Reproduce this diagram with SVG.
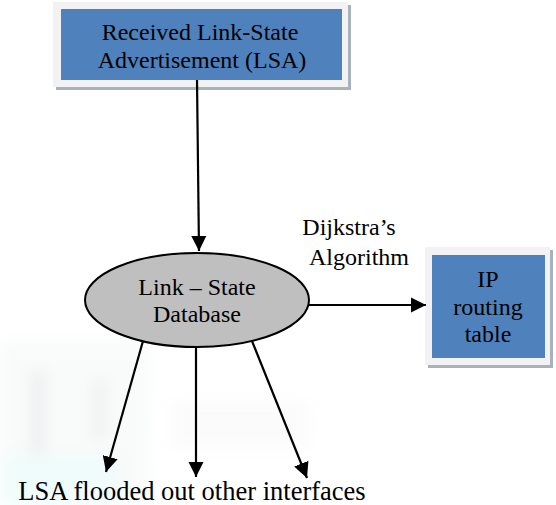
<svg xmlns="http://www.w3.org/2000/svg" width="556" height="505" viewBox="0 0 556 505" font-family="'Liberation Serif', 'Times New Roman', 'DejaVu Serif', serif">
<style>
text{font-family:'Liberation Serif','Times New Roman','DejaVu Serif',serif}
.t{font-size:24px;fill:#000;text-anchor:middle}
.frame{fill:#f2f2f2}
.shadow{fill:#a9b1bf}
.blue{fill:#4f81bd}
.conn{stroke:#000;stroke-width:2.2;fill:none}
</style>
<defs>
<marker id="ah" viewBox="0 0 10 10" refX="10" refY="5" markerWidth="7" markerHeight="7" markerUnits="strokeWidth" orient="auto">
<path d="M0,0 L10,5 L0,10 Z" fill="#000"/>
</marker>
<filter id="blur" x="-20%" y="-20%" width="140%" height="140%"><feGaussianBlur stdDeviation="7"/></filter>
</defs>
<rect width="556" height="505" fill="#fff"/>
<g id="watermark" filter="url(#blur)" opacity="0.22">
<rect x="0" y="340" width="150" height="165" fill="#e6ecec"/>
<rect x="30" y="370" width="16" height="90" fill="#b8bcbf"/>
<rect x="90" y="380" width="18" height="60" fill="#c4c7c9"/>
<rect x="0" y="455" width="120" height="50" fill="#bff0ee"/>
<rect x="170" y="400" width="140" height="50" fill="#eeeeee"/>
</g>
<g id="lsa-box">
<rect class="shadow" x="56" y="5" width="295" height="85"/>
<rect class="frame" x="53" y="2" width="295" height="85"/>
<rect class="blue" x="61" y="9" width="281" height="71"/>
<text class="t" x="200" y="40" font-family="Liberation Serif">Received Link-State</text>
<text class="t" x="202" y="68" font-family="Liberation Serif">Advertisement (LSA)</text>
</g>
<g id="database">
<ellipse cx="197" cy="300" rx="112" ry="47" fill="#bfbfbf" stroke="#000" stroke-width="2"/>
<text class="t" x="197" y="295" font-family="Liberation Serif">Link – State</text>
<text class="t" x="197" y="322" font-family="Liberation Serif">Database</text>
</g>
<g id="ip-table">
<rect class="shadow" x="428" y="250" width="125" height="118"/>
<rect class="frame" x="425" y="247" width="125" height="118"/>
<rect class="blue" x="432" y="255" width="113" height="103"/>
<text class="t" x="488" y="287" font-family="Liberation Serif">IP</text>
<text class="t" x="488" y="315" font-family="Liberation Serif">routing</text>
<text class="t" x="488" y="342" font-family="Liberation Serif">table</text>
</g>
<g id="connectors">
<line class="conn" x1="197" y1="80" x2="199" y2="251" marker-end="url(#ah)"/>
<line class="conn" x1="309" y1="305" x2="426" y2="305" marker-end="url(#ah)"/>
<line class="conn" x1="143" y1="341" x2="106" y2="472" marker-end="url(#ah)"/>
<line class="conn" x1="196" y1="347" x2="196" y2="477" marker-end="url(#ah)"/>
<line class="conn" x1="252" y1="341" x2="307" y2="478" marker-end="url(#ah)"/>
</g>
<g id="labels">
<text class="t" x="349" y="235" font-family="Liberation Serif">Dijkstra’s</text>
<text class="t" x="359" y="265" font-family="Liberation Serif">Algorithm</text>
<text class="t" x="192" y="500" font-family="Liberation Serif" style="font-size:26.5px">LSA flooded out other interfaces</text>
</g>
</svg>
